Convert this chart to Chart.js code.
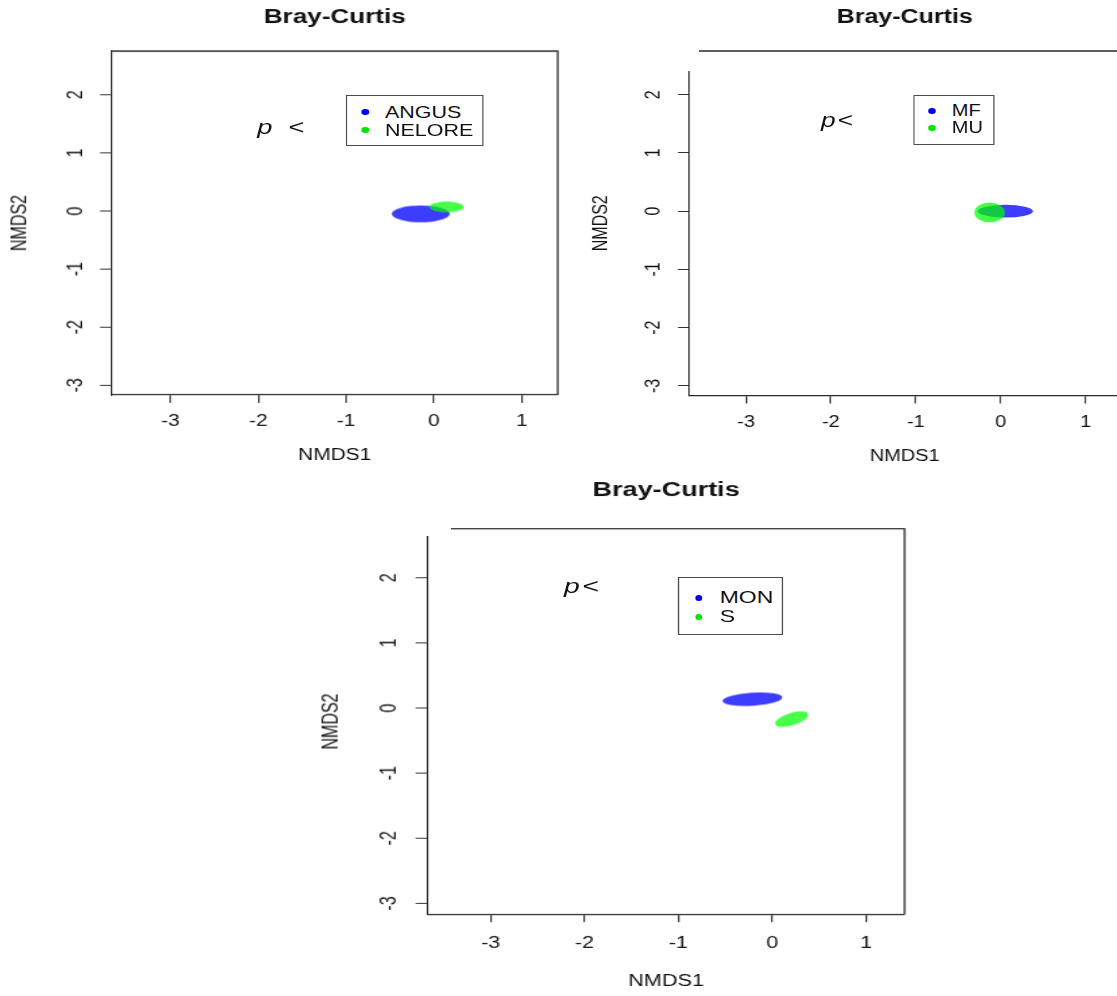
<!DOCTYPE html>
<html lang="en">
<head>
<meta charset="utf-8">
<title>Bray-Curtis NMDS</title>
<script src="https://cdn.jsdelivr.net/npm/chart.js"></script>
<style>
  html, body { margin: 0; padding: 0; background: #fff; }
  body {
    position: relative; width: 1117px; height: 996px; overflow: hidden;
    font-family: 'Liberation Sans', Arial, Helvetica, sans-serif; color: #111;
  }
  .panel { position: absolute; transform-origin: 0 0; }
  .plot { position: absolute; left: 0; top: 0; }
  .legend { position: absolute; border: 1px solid #4d4d4d; background: #fff; box-sizing: border-box; }
  .legend .row { position: absolute; left: 0; right: 0; white-space: nowrap; }
  .legend .dot { position: absolute; width: 5.5px; height: 5.5px; border-radius: 50%; }
  .legend .txt { position: absolute; top: 0; }
  .ptext { position: absolute; font-size: 21px; line-height: 1; white-space: nowrap; }
  .cover { position: absolute; background: #fff; }
</style>
</head>
<body>
<script>
// same NMDS space in all three panels
const xTicks = [-3, -2, -1, 0, 1];
const xTickLabels = ['-3', '-2', '-1', '0', '1'];
const yTicks = [2, 1, 0, -1, -2, -3];
const yTickLabels = ['2', '1', '0', '-1', '-2', '-3'];
const xLimits = [-3.67, 1.41];
const yLimits = [-3.165, 2.75];

const chartTitle = 'Bray-Curtis';
const xTitle = 'NMDS1';
const yTitle = 'NMDS2';
const pLabel = 'p';
const pRelation = '<';

// group ellipses: centre, semi-axes in NMDS units, tilt in degrees
const breedGroups = ['ANGUS', 'NELORE'];
const breedCenterX = [-0.15, 0.145];
const breedCenterY = [-0.05, 0.07];
const breedRadiusX = [0.33, 0.195];
const breedRadiusY = [0.145, 0.092];
const breedTilt = [0, 0];

const mfGroups = ['MF', 'MU'];
const mfCenterX = [0.055, -0.13];
const mfCenterY = [0.0, -0.022];
const mfRadiusX = [0.325, 0.18];
const mfRadiusY = [0.11, 0.17];
const mfTilt = [0, 0];

const monGroups = ['MON', 'S'];
const monCenterX = [-0.21, 0.208];
const monCenterY = [0.134, -0.17];
const monRadiusX = [0.319, 0.19];
const monRadiusY = [0.1, 0.092];
const monTilt = [5, 25];

const fillColors = ['rgba(0, 0, 255, 0.76)', 'rgba(0, 255, 0, 0.72)'];
const dotColors = ['#0000ff', '#00e600'];

Chart.defaults.font.family = "'Liberation Sans', Arial, Helvetica, sans-serif";
Chart.defaults.color = '#111';

// screen positions of each panel (the source image is stretched sideways)
const panels = [
  {
    groups: breedGroups, cx: breedCenterX, cy: breedCenterY, rx: breedRadiusX, ry: breedRadiusY, tilt: breedTilt,
    left: 0, top: 0, right: 560, sx: 1.3,
    area: { l: 111.4, r: 556.4, t: 51, b: 394 },
    titleY: 17, xLabelY: 421, xTitleY: 455, yLabelX: 76.5, yTitleX: 20,
    legend: { l: 346, r: 483, t: 94.5, b: 145.5, dotX: 365, textX: 385, rowY: [112, 130], size: 16.5 },
    p: { x: 258, base: 133.5, gap: 12.4 },
    cover: null
  },
  {
    groups: mfGroups, cx: mfCenterX, cy: mfCenterY, rx: mfRadiusX, ry: mfRadiusY, tilt: mfTilt,
    left: 582.2, top: 0, right: 1124, sx: 1.25,
    area: { l: 689.3, r: 1120.6, t: 51, b: 395.5 },
    titleY: 17, xLabelY: 422.7, xTitleY: 456.7, yLabelX: 654.5, yTitleX: 602,
    legend: { l: 914, r: 995, t: 95, b: 145, dotX: 932, textX: 952, rowY: [111, 128], size: 16 },
    p: { x: 822, base: 127, gap: 1.7 },
    cover: { x: 575, y: 42, w: 123.5, h: 28.5 }
  },
  {
    groups: monGroups, cx: monCenterX, cy: monCenterY, rx: monRadiusX, ry: monRadiusY, tilt: monTilt,
    left: 312.3, top: 470, right: 908, sx: 1.35,
    area: { l: 428, r: 904.8, t: 528.7, b: 913.3 },
    titleY: 490.7, xLabelY: 942.7, xTitleY: 981, yLabelX: 389.5, yTitleX: 332,
    legend: { l: 678, r: 783, t: 577, b: 635, dotX: 699, textX: 720, rowY: [598, 617], size: 17 },
    p: { x: 565, base: 593, gap: 2.1 },
    cover: { x: 300, y: 515, w: 150.5, h: 20.5 }
  }
];

// ellipses, the top/right sides of the box, and a title centred on the plot region
const framePlugin = {
  id: 'frame',
  afterLayout(chart) {
    const t = chart.titleBlock, a = chart.chartArea;
    if (t) { t.left = a.left; t.right = a.right; t.width = a.right - a.left; }
  },
  beforeDatasetsDraw(chart) {
    const { ctx, scales: { x, y } } = chart;
    chart.data.datasets.forEach(ds => {
      const c = ds.data[0];
      const px = x.getPixelForValue(c.x);
      const py = y.getPixelForValue(c.y);
      const rx = Math.abs(x.getPixelForValue(c.x + ds.radiusX) - px);
      const ry = Math.abs(y.getPixelForValue(c.y + ds.radiusY) - py);
      ctx.save();
      ctx.fillStyle = ds.backgroundColor;
      ctx.beginPath();
      ctx.ellipse(px, py, rx, ry, -ds.tilt * Math.PI / 180, 0, Math.PI * 2);
      ctx.fill();
      ctx.restore();
    });
  },
  afterDraw(chart) {
    const { ctx, chartArea: a } = chart;
    ctx.save();
    ctx.strokeStyle = '#2a2a2a';
    ctx.lineWidth = 1.3;
    ctx.beginPath();
    ctx.moveTo(a.left, a.top);
    ctx.lineTo(a.right, a.top);
    ctx.lineTo(a.right, a.bottom);
    ctx.stroke();
    ctx.restore();
  }
};

function buildPanel(p) {
  const nx = v => (v - p.left) / p.sx;
  const ny = v => v - p.top;

  const axisLH = 16 * 1.2;
  const titleLH = 20 * 1.2;
  const xTickLen = 8, yTickLen = 9;
  const yAxisW = nx(p.area.l);
  const width = nx(p.right);
  const padRight = width - nx(p.area.r);
  const titlePadTop = ny(p.titleY) - titleLH / 2;
  const titlePadBottom = ny(p.area.t) - titlePadTop - titleLH;
  const xTitlePadBottom = 3;
  const xAxisH = p.xTitleY - p.area.b + axisLH / 2 + xTitlePadBottom;
  const height = ny(p.area.b) + xAxisH;
  const xTickPad = p.xLabelY - p.area.b - xTickLen - axisLH / 2;
  const yTickPad = yAxisW - yTickLen - nx(p.yLabelX) - 7.1;
  const yTitlePad = nx(p.yTitleX) - axisLH / 2;

  const box = document.createElement('div');
  box.className = 'panel';
  Object.assign(box.style, {
    left: p.left + 'px', top: p.top + 'px',
    width: width + 'px', height: height + 'px',
    transform: `scaleX(${p.sx})`
  });
  const wrap = document.createElement('div');
  wrap.className = 'plot';
  wrap.style.width = width + 'px';
  wrap.style.height = height + 'px';
  const canvas = document.createElement('canvas');
  wrap.appendChild(canvas);
  box.appendChild(wrap);

  // legend box
  const L = p.legend;
  const lh = 18;
  const leg = document.createElement('div');
  leg.className = 'legend';
  Object.assign(leg.style, {
    left: nx(L.l) + 'px', top: ny(L.t) + 'px',
    width: (L.r - L.l) / p.sx + 'px', height: (L.b - L.t) + 'px',
    fontSize: L.size + 'px'
  });
  p.groups.forEach((g, i) => {
    const row = document.createElement('div');
    row.className = 'row';
    Object.assign(row.style, { top: (L.rowY[i] - L.t - lh / 2 - 1) + 'px', height: lh + 'px', lineHeight: lh + 'px' });
    const dot = document.createElement('span');
    dot.className = 'dot';
    Object.assign(dot.style, {
      left: ((L.dotX - L.l) / p.sx - 3.75) + 'px', top: (lh / 2 - 2.75) + 'px', background: dotColors[i]
    });
    const txt = document.createElement('span');
    txt.className = 'txt';
    txt.style.left = ((L.textX - L.l) / p.sx - 1) + 'px';
    txt.textContent = g;
    row.appendChild(dot);
    row.appendChild(txt);
    leg.appendChild(row);
  });
  box.appendChild(leg);

  // "p <" note
  const pt = document.createElement('div');
  pt.className = 'ptext';
  pt.style.left = (nx(p.p.x) - 0.6) + 'px';
  pt.style.top = (ny(p.p.base) - 17.8) + 'px';
  const it = document.createElement('i');
  it.textContent = pLabel;
  const rel = document.createElement('span');
  rel.style.marginLeft = p.p.gap + 'px';
  rel.textContent = pRelation;
  pt.appendChild(it);
  pt.appendChild(rel);
  box.appendChild(pt);

  document.body.appendChild(box);

  if (p.cover) {
    const c = document.createElement('div');
    c.className = 'cover';
    Object.assign(c.style, { left: p.cover.x + 'px', top: p.cover.y + 'px', width: p.cover.w + 'px', height: p.cover.h + 'px' });
    document.body.appendChild(c);
  }

  return new Chart(canvas, {
    type: 'scatter',
    data: {
      datasets: p.groups.map((g, i) => ({
        label: g,
        data: [{ x: p.cx[i], y: p.cy[i] }],
        radiusX: p.rx[i],
        radiusY: p.ry[i],
        tilt: p.tilt[i],
        backgroundColor: fillColors[i],
        pointRadius: 0
      }))
    },
    options: {
      responsive: true,
      maintainAspectRatio: false,
      animation: false,
      events: [],
      layout: { padding: { left: 0, top: 0, right: padRight, bottom: 0 } },
      plugins: {
        legend: { display: false },
        tooltip: { enabled: false },
        title: {
          display: true, text: chartTitle, color: '#111',
          font: { size: 20, weight: 'bold' },
          padding: { top: titlePadTop, bottom: titlePadBottom }
        }
      },
      scales: {
        x: {
          type: 'linear', min: xLimits[0], max: xLimits[1],
          afterBuildTicks: s => { s.ticks = xTicks.map(v => ({ value: v })); },
          afterFit: s => { s.height = xAxisH; },
          grid: { drawOnChartArea: false, drawTicks: true, tickLength: xTickLen, color: '#333', lineWidth: 1.2 },
          border: { display: true, color: '#2a2a2a', width: 1.3 },
          ticks: {
            autoSkip: false, maxRotation: 0, padding: xTickPad, color: '#111',
            font: { size: 16 }, callback: (v, i) => xTickLabels[i]
          },
          title: { display: true, text: xTitle, color: '#111', font: { size: 16 }, padding: { top: 0, bottom: xTitlePadBottom } }
        },
        y: {
          type: 'linear', min: yLimits[0], max: yLimits[1],
          afterBuildTicks: s => { s.ticks = yTicks.map(v => ({ value: v })); },
          afterFit: s => { s.width = yAxisW; },
          grid: { drawOnChartArea: false, drawTicks: true, tickLength: yTickLen, color: '#333', lineWidth: 1 },
          border: { display: true, color: '#2a2a2a', width: 1.1 },
          ticks: {
            autoSkip: false, minRotation: 90, maxRotation: 90, crossAlign: 'center',
            padding: yTickPad, color: '#111', font: { size: 16 },
            callback: (v, i) => yTickLabels[i]
          },
          title: { display: true, text: yTitle, color: '#111', font: { size: 16 }, padding: { top: yTitlePad, bottom: 0 } }
        }
      }
    },
    plugins: [framePlugin]
  });
}

panels.forEach(buildPanel);
</script>
</body>
</html>
